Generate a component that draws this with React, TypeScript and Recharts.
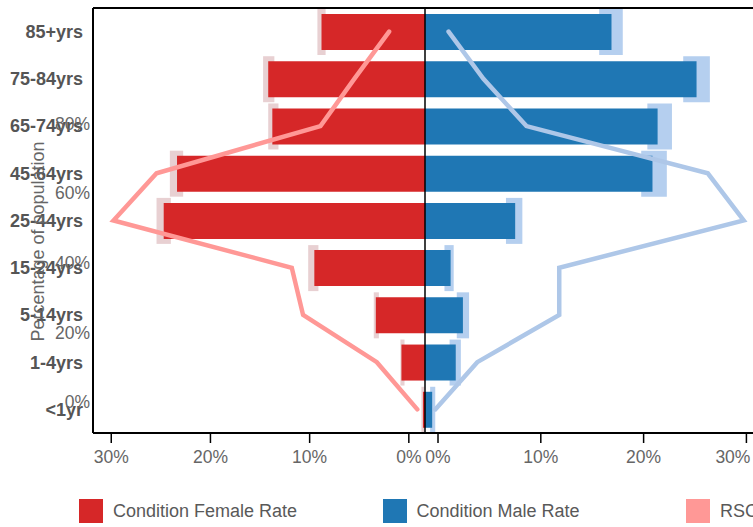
import React from 'react';
import { ComposedChart, Bar, Line, XAxis, YAxis, ReferenceLine, Legend, Label } from 'recharts';

// age bands, top to bottom
const ageGroups = ['85+yrs', '75-84yrs', '65-74yrs', '45-64yrs', '25-44yrs', '15-24yrs', '5-14yrs', '1-4yrs', '<1yr'];

// condition rates (%) with interval bounds
const femaleRate = [10.1, 15.3, 14.9, 24.2, 25.5, 10.8, 4.8, 2.3, 0.2];
const femaleLow = [9.7, 14.7, 14.3, 23.6, 24.8, 10.4, 4.5, 2.0, 0.05];
const femaleHigh = [10.5, 15.8, 15.3, 24.9, 26.2, 11.4, 5.0, 2.4, 0.35];
const maleRate = [18.2, 26.5, 22.7, 22.2, 8.8, 2.5, 3.7, 3.0, 0.7];
const maleLow = [17.0, 25.2, 21.7, 21.1, 7.9, 1.9, 3.1, 2.4, 0.5];
const maleHigh = [19.3, 27.8, 24.1, 23.6, 9.5, 2.8, 4.3, 3.5, 1.0];

// RSC reference population lines (%)
const rscFemale = [3.5, 6.9, 10.2, 26.2, 30.4, 13.0, 11.9, 4.7, 0.75];
const rscMale = [2.3, 5.7, 9.9, 27.6, 31.1, 13.1, 13.1, 5.1, 1.0];

const femaleTicks = [0, 10, 20, 30];
const maleTicks = [0, 10, 20, 30];
const pctTicks = [0, 20, 40, 60, 80];

const seriesNames = ['Condition Female Rate', 'Condition Male Rate', 'RSC Female Rate', 'RSC Male Rate'];

const COLORS = {
  female: '#d62728',
  male: '#1f77b4',
  femaleCI: '#e8d0d2',
  maleCI: '#b5cfef',
  rscFemale: '#ff9896',
  rscMale: '#aec7e8',
};

const data = ageGroups.map((age, i) => ({
  age,
  female: -femaleRate[i],
  male: maleRate[i],
  femaleCI: [-femaleHigh[i], -femaleLow[i]],
  maleCI: [maleLow[i], maleHigh[i]],
  rscFemale: -rscFemale[i],
  rscMale: rscMale[i],
}));

const TICK_STYLE = { fill: '#666', fontSize: 17.5 };
const FRAME = { stroke: '#000', strokeWidth: 2 };
const PLOT_TOP = 8;
const PLOT_BOTTOM_GAP = 94;

function MaleTick(props: any) {
  const { x, y, payload } = props;
  const isLast = payload.value === maleTicks[maleTicks.length - 1];
  return (
    <text
      x={isLast ? x + 4 : x}
      y={y}
      dy="0.71em"
      textAnchor={isLast ? 'end' : 'middle'}
      fill="#666"
      fontSize={17.5}
    >
      {payload.value}%
    </text>
  );
}

function renderAxisTitle(props: any) {
  const { viewBox } = props;
  const cx = viewBox.x - 53;
  const cy = viewBox.y + viewBox.height / 2 + 21;
  return (
    <text
      x={cx}
      y={cy}
      transform={`rotate(-90, ${cx}, ${cy})`}
      textAnchor="middle"
      dominantBaseline="central"
      fill="#666"
      fontSize={18}
    >
      Percentage of population
    </text>
  );
}

function renderLegend(props: any) {
  const items = (props.payload || []).filter((p: any) => p.type !== 'none');
  return (
    <div style={{ display: 'flex', alignItems: 'center', height: 32, paddingLeft: 79, whiteSpace: 'nowrap' }}>
      {items.map((p: any) => (
        <div key={p.value} style={{ display: 'flex', alignItems: 'center', width: 303.5, flexShrink: 0 }}>
          <span style={{ width: 24, height: 24, background: p.color, marginRight: 10, flexShrink: 0 }} />
          <span style={{ fontSize: 18, color: '#595959' }}>{p.value}</span>
        </div>
      ))}
    </div>
  );
}

export default function App() {
  return (
    <div
      style={{
        position: 'absolute',
        left: 0,
        top: 0,
        width: 753,
        height: 527,
        overflow: 'hidden',
        background: '#fff',
        fontFamily: '"Liberation Sans", Arial, sans-serif',
      }}
    >
      <ComposedChart
        width={800}
        height={527}
        data={data}
        layout="vertical"
        stackOffset="sign"
        margin={{ top: PLOT_TOP - 1, right: 43, bottom: 0, left: 92 }}
      >
        <XAxis
          xAxisId="top"
          orientation="top"
          type="number"
          domain={[0, 1]}
          allowDataOverflow
          height={1}
          tick={false}
          tickLine={false}
          axisLine={FRAME}
        />
        <XAxis
          xAxisId="female"
          orientation="bottom"
          type="number"
          reversed
          domain={[-35.1, 31.84]}
          allowDataOverflow
          ticks={femaleTicks}
          interval={0}
          tickFormatter={(v) => `${v}%`}
          height={1}
          tickSize={10}
          tickMargin={8}
          tick={TICK_STYLE}
          tickLine={{ stroke: '#000', strokeWidth: 1.5 }}
          axisLine={FRAME}
        />
        <XAxis
          xAxisId="male"
          orientation="bottom"
          type="number"
          domain={[-33.56, 31.03]}
          allowDataOverflow
          ticks={maleTicks}
          interval={0}
          height={61}
          tickSize={9}
          tickMargin={8}
          tick={<MaleTick />}
          tickLine={{ stroke: '#000', strokeWidth: 1.5 }}
          axisLine={false}
        />
        <XAxis xAxisId="bars" type="number" domain={[-32.4, 32.4]} allowDataOverflow hide height={0} />
        <YAxis
          yAxisId="cat"
          type="category"
          dataKey="age"
          width={1}
          interval={0}
          axisLine={FRAME}
          tickLine={false}
          tickSize={0}
          tickMargin={10}
          tick={{ fill: '#555', fontSize: 18, fontWeight: 'bold' }}
        />
        <YAxis yAxisId="ciF" type="category" dataKey="age" hide width={0} />
        <YAxis yAxisId="ciM" type="category" dataKey="age" hide width={0} />

        <Bar xAxisId="bars" yAxisId="ciF" dataKey="femaleCI" fill={COLORS.femaleCI} barSize={46} legendType="none" isAnimationActive={false} />
        <Bar xAxisId="bars" yAxisId="ciM" dataKey="maleCI" fill={COLORS.maleCI} barSize={46} legendType="none" isAnimationActive={false} />
        <Bar xAxisId="bars" yAxisId="cat" dataKey="female" name={seriesNames[0]} stackId="pyramid" fill={COLORS.female} barSize={36} isAnimationActive={false} />
        <Bar xAxisId="bars" yAxisId="cat" dataKey="male" name={seriesNames[1]} stackId="pyramid" fill={COLORS.male} barSize={36} isAnimationActive={false} />
        <Line
          xAxisId="bars"
          yAxisId="cat"
          type="linear"
          dataKey="rscFemale"
          name={seriesNames[2]}
          stroke={COLORS.rscFemale}
          strokeWidth={4.5}
          strokeLinecap="round"
          dot={false}
          isAnimationActive={false}
        />
        <Line
          xAxisId="bars"
          yAxisId="cat"
          type="linear"
          dataKey="rscMale"
          name={seriesNames[3]}
          stroke={COLORS.rscMale}
          strokeWidth={4.5}
          strokeLinecap="round"
          dot={false}
          isAnimationActive={false}
        />
        <ReferenceLine xAxisId="bars" yAxisId="cat" x={0} stroke="#000" strokeWidth={1.5} />
        <Legend content={renderLegend} verticalAlign="bottom" wrapperStyle={{ left: 0, width: 1400 }} />
      </ComposedChart>

      {/* percentage axis sits on top of the category axis, drawn by a second chart */}
      <div style={{ position: 'absolute', left: 0, top: 0, pointerEvents: 'none' }}>
        <ComposedChart
          width={120}
          height={527}
          data={pctTicks.map((v) => ({ v }))}
          margin={{ top: PLOT_TOP, right: 8, bottom: PLOT_BOTTOM_GAP, left: 91 }}
        >
          <XAxis hide height={0} />
          <YAxis
            type="number"
            domain={[-8.94, 113.26]}
            allowDataOverflow
            ticks={pctTicks}
            interval={0}
            tickFormatter={(v) => `${v}%`}
            width={1}
            axisLine={false}
            tickLine={false}
            tickSize={0}
            tickMargin={2}
            tick={TICK_STYLE}
          >
            <Label content={renderAxisTitle} />
          </YAxis>
        </ComposedChart>
      </div>
    </div>
  );
}
